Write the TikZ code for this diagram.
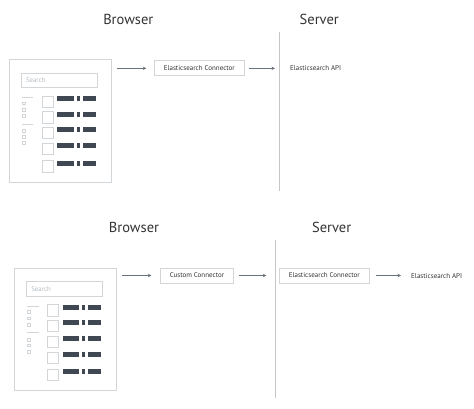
\documentclass[tikz,border=0pt]{standalone}
\usepackage{fontspec}
\setmainfont{PT Sans}
\usetikzlibrary{arrows.meta,calc}
\definecolor{framegray}{HTML}{D3D6D9}
\definecolor{bargray}{HTML}{3F4852}
\definecolor{arrowgray}{HTML}{6A737C}
\definecolor{labelgray}{HTML}{333333}
\definecolor{hintgray}{HTML}{B5BABF}
\definecolor{divider}{HTML}{C6C6C6}
\tikzset{
  title/.style={font=\fontsize{14.5}{16}\selectfont, text=labelgray, inner sep=0pt},
  connbox/.style={draw=framegray, line width=0.8pt, minimum height=15pt, inner sep=0pt,
    font=\fontsize{7}{8}\selectfont, text=labelgray},
  plainlabel/.style={inner sep=0pt, font=\fontsize{7}{8}\selectfont, text=labelgray},
  flow/.style={draw=arrowgray, line width=0.8pt, -{Stealth[length=3.5pt,width=3.5pt]}},
  divline/.style={draw=divider, line width=1pt},
  mock/.pic={
    \node[draw=framegray, line width=0.8pt, anchor=north west, inner sep=0pt,
      minimum width=101.5pt, minimum height=122.5pt] (-frame) at (0,0) {};
    \node[draw=framegray, line width=0.7pt, anchor=north west, inner xsep=5pt, inner ysep=0pt,
      text width=66pt, minimum height=14.6pt, align=left, text=hintgray,
      font=\fontsize{6.8}{8}\selectfont] (-search) at (11.7,13.7) {Search};
    \draw[framegray, line width=0.7pt] (12.7,38.3) -- (24.3,38.3);
    \draw[framegray, line width=0.7pt] (12.7,65) -- (24.3,65);
    \foreach \yy in {44.3,50.6,57,71.7,77.5,83.7}
      \draw[framegray, line width=0.5pt] (13.3,\yy-1.4) rectangle (16.1,\yy+1.4);
    \foreach \yy in {37,52.7,68.3,84.3,101.7} {
      \draw[framegray, line width=0.7pt] (33.3,\yy) rectangle (44.3,\yy+11.3);
      \fill[bargray] (48.3,\yy) rectangle (65,\yy+5);
      \fill[bargray] (67.7,\yy) rectangle (71,\yy+5);
      \fill[bargray] (73.7,\yy) rectangle (86.7,\yy+5);
    }
  }
}
\begin{document}
\begin{tikzpicture}[x=1pt,y=-1pt]
\useasboundingbox (0,0) rectangle (474,408);
% ---------- top diagram ----------
\node[title] (b1) at (128.3,19) {Browser};
\node[title] (s1) at (319.3,19) {Server};
\coordinate (d1t) at (279.3,31.7);
\coordinate (d1b) at (279.3,190.7);
\draw[divline] (d1t) -- (d1b);
\pic (m1) at (9,59) {mock};
\node[connbox, minimum width=90pt] (ec1) at (199.3,68.3) {Elasticsearch Connector};
\node[plainlabel, anchor=west] (api1) at (290,67.7) {Elasticsearch API};
\draw[flow, shorten <=5.3pt, shorten >=7.6pt] (m1-frame.east |- ec1.west) -- (ec1.west);
\draw[flow, shorten <=4pt, shorten >=15pt] (ec1.east) -- (api1.west |- ec1.east);
% ---------- bottom diagram ----------
\node[title] (b2) at (134,227.3) {Browser};
\node[title] (s2) at (331.7,227.3) {Server};
\coordinate (d2t) at (275.3,240);
\coordinate (d2b) at (275.3,398.3);
\draw[divline] (d2t) -- (d2b);
\pic (m2) at (14.3,267.7) {mock};
\node[connbox, minimum width=72.6pt] (cc2) at (197,275.5) {Custom Connector};
\node[connbox, minimum width=90pt] (ec2) at (324.3,275.5) {Elasticsearch Connector};
\node[plainlabel, anchor=west] (api2) at (411,275.7) {Elasticsearch API};
\draw[flow, shorten <=5.7pt, shorten >=9pt] (m2-frame.east |- cc2.west) -- (cc2.west);
\draw[flow, shorten <=5pt, shorten >=12.6pt] (cc2.east) -- (ec2.west);
\draw[flow, shorten <=6.4pt, shorten >=10pt] (ec2.east) -- (api2.west |- ec2.east);
\end{tikzpicture}
\end{document}
